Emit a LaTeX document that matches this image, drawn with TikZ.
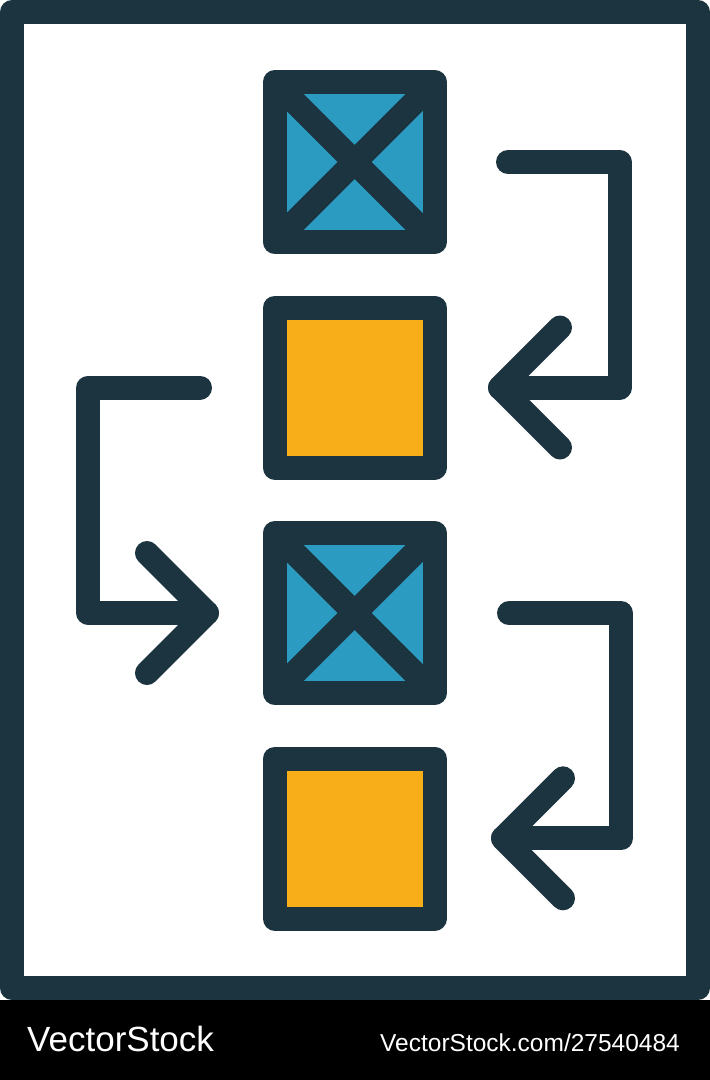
\documentclass[tikz,border=0pt]{standalone}
\usepackage{fontspec}
\newfontfamily\wmfont{Liberation Sans}
\definecolor{navy}{HTML}{1C3340}
\definecolor{xblue}{HTML}{2B9BC2}
\definecolor{xorange}{HTML}{F7AE19}
\tikzset{
  basebox/.style={draw=navy, line width=24pt, line join=round, minimum width=160pt, minimum height=160pt, inner sep=0pt, outer sep=0pt, rectangle},
  crossbox/.style={basebox, fill=xblue},
  plainbox/.style={basebox, fill=xorange},
  crossline/.style={draw=navy, line width=24pt, line cap=butt},
  flowline/.style={draw=navy, line width=24pt, line cap=round, line join=round},
  frameline/.style={draw=navy, line width=24pt, line join=round},
  wmark/.style={text=white, inner sep=0pt, anchor=base west}
}
\begin{document}
\begin{tikzpicture}[x=1pt, y=-1pt]
\useasboundingbox (0,0) rectangle (710,1080);
\fill[white] (0,0) rectangle (710,1000);
\fill[black] (0,1000) rectangle (710,1080);
\draw[frameline] (12,12) rectangle (698,988);

% boxes
\node[crossbox] (b1) at (354.7,162) {};
\node[plainbox] (b2) at (354.7,387.5) {};
\node[crossbox] (b3) at (354.7,613) {};
\node[plainbox] (b4) at (354.7,838.5) {};
\draw[crossline] (b1.north west) -- (b1.south east) (b1.north east) -- (b1.south west);
\draw[crossline] (b3.north west) -- (b3.south east) (b3.north east) -- (b3.south west);

% arrow 1: from b1 side to b2 side
\coordinate (a1s) at (508,162);
\coordinate (a1t) at (500,387.5);
\draw[flowline] (a1s) -- (619.5,162) -- (619.5,387.5) -- (a1t);
\draw[flowline] ([xshift=60pt,yshift=60pt]a1t) -- (a1t) -- ([xshift=60pt,yshift=-60pt]a1t);

% arrow 2: from b2 side to b3 side (left)
\coordinate (a2s) at (200,387.5);
\coordinate (a2t) at (207,613);
\draw[flowline] (a2s) -- (88.3,387.5) -- (88.3,613) -- (a2t);
\draw[flowline] ([xshift=-60pt,yshift=60pt]a2t) -- (a2t) -- ([xshift=-60pt,yshift=-60pt]a2t);

% arrow 3: from b3 side to b4 side
\coordinate (a3s) at (509,613.3);
\coordinate (a3t) at (503,838.3);
\draw[flowline] (a3s) -- (621.3,613.3) -- (621.3,838.3) -- (a3t);
\draw[flowline] ([xshift=60pt,yshift=60pt]a3t) -- (a3t) -- ([xshift=60pt,yshift=-60pt]a3t);

% watermark
\node[wmark, font={\wmfont\fontsize{35}{40}\selectfont}] (w1) at (27,1051) {VectorStock};
\node[wmark, font={\wmfont\fontsize{24.5}{28}\selectfont}] (w2) at (380,1051) {VectorStock.com/27540484};
\end{tikzpicture}
\end{document}
